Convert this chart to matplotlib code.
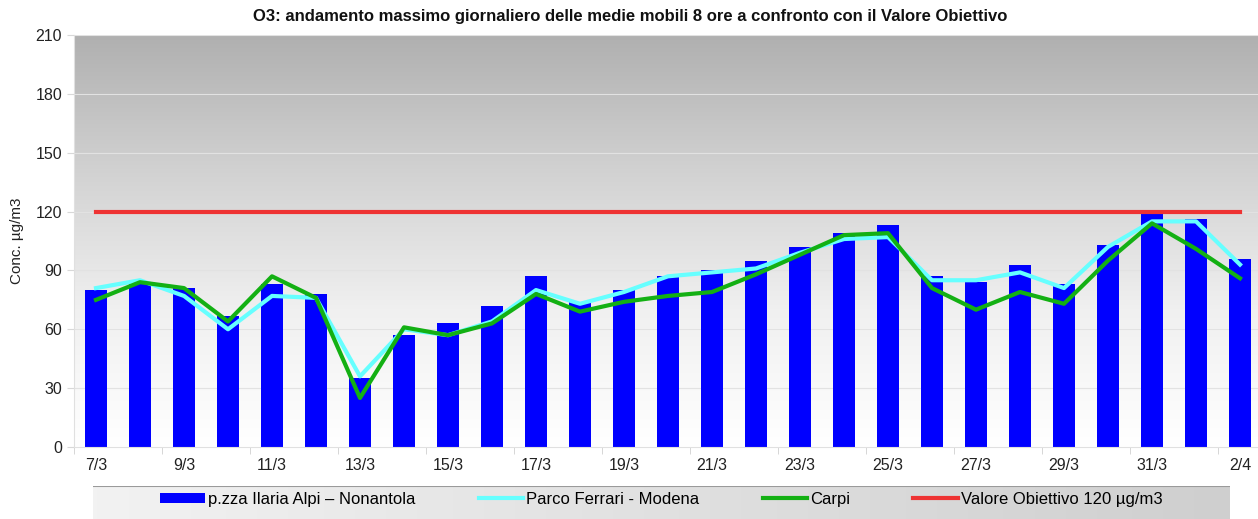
import numpy as np
import matplotlib as mpl
mpl.use('Agg')
import matplotlib.pyplot as plt
from matplotlib.colors import LinearSegmentedColormap
from matplotlib.patches import Patch
from matplotlib.lines import Line2D

dates = ['7/3', '8/3', '9/3', '10/3', '11/3', '12/3', '13/3', '14/3', '15/3',
         '16/3', '17/3', '18/3', '19/3', '20/3', '21/3', '22/3', '23/3', '24/3',
         '25/3', '26/3', '27/3', '28/3', '29/3', '30/3', '31/3', '1/4', '2/4']
nonantola = [80, 83, 81, 67, 83, 78, 35, 57, 63, 72, 87, 74, 80, 87, 90, 95,
             102, 109, 113, 87, 84, 93, 83, 103, 119, 116, 96]
modena = [81, 85, 77, 60, 77, 76, 36, 60, 57, 64, 80, 73, 79, 87, 89, 91,
          99, 106, 107, 85, 85, 89, 81, 102, 115, 115, 93]
carpi = [75, 84, 81, 64, 87, 76, 25, 61, 57, 63, 78, 69, 74, 77, 79, 88,
         98, 108, 109, 81, 70, 79, 73, 95, 114, 101, 86]
target = 120

labels = ['p.zza Ilaria Alpi \u2013 Nonantola', 'Parco Ferrari - Modena', 'Carpi',
          'Valore Obiettivo 120 \u00b5g/m3']
title = 'O3: andamento massimo giornaliero delle medie mobili 8 ore a confronto con il Valore Obiettivo'

plt.rcParams['font.family'] = ['Liberation Sans', 'DejaVu Sans']

W, H = 1258, 519
fig = plt.figure(figsize=(W / 100, H / 100), dpi=100)

# plot area in pixel terms: left 74, right 1262 (clipped), top 35, bottom 447
ax = fig.add_axes([74 / W, (H - 447) / H, (1262 - 74) / W, (447 - 35) / H])

x = np.arange(len(dates))

# gray gradient background
bg = LinearSegmentedColormap.from_list('bg', ['#ffffff', '#f0f0f0', '#d2d2d2', '#b0b0b0'])
grad = np.linspace(0, 1, 256).reshape(-1, 1)
ax.imshow(grad, extent=[0, 1, 0, 1], transform=ax.transAxes, aspect='auto',
          cmap=bg, origin='lower', zorder=0)

for yv in range(30, 211, 30):
    ax.axhline(yv, color='#e2e2e2', lw=0.8, zorder=1)

ax.bar(x, nonantola, width=0.5, color='#0000ff', zorder=2)
ax.plot(x, modena, color='#66ffff', lw=3, zorder=3)
ax.plot(x, carpi, color='#13b013', lw=3, zorder=4)
ax.plot(x, [target] * len(x), color='#ee3333', lw=3, zorder=5)

ax.set_xlim(-0.5, len(dates) - 0.5)
ax.set_ylim(0, 210)
ax.set_yticks(range(0, 211, 30))
ax.set_xticks(x[::2])
ax.set_xticklabels(dates[::2])
ax.set_xticks(np.arange(-0.5, len(dates), 2), minor=True)
ax.tick_params(axis='x', which='major', length=0, pad=8, labelsize=11.5, colors='#222222')
ax.tick_params(axis='x', which='minor', length=5, color='#d0d0d0')
ax.tick_params(axis='y', length=5, labelsize=11.5, colors='#d8d8d8', labelcolor='#222222')
for s in ['top', 'right']:
    ax.spines[s].set_visible(False)
for s in ['left', 'bottom']:
    ax.spines[s].set_color('#e0e0e0')
ax.set_ylabel('Conc. \u00b5g/m3', fontsize=11, color='#222222', labelpad=8)

fig.text(630 / W, 1 - 17 / H, title, ha='center', va='center',
         fontsize=12, fontweight='bold', color='#111111')

# legend box with gradient
lax = fig.add_axes([93 / W, 0, (1230 - 93) / W, (519 - 486) / H])
lg = LinearSegmentedColormap.from_list('lg', ['#f2f2f2', '#cfcfcf'])
lax.imshow(np.linspace(0, 1, 256).reshape(1, -1), extent=[0, 1, 0, 1], aspect='auto',
           cmap=lg, zorder=0)
lax.set_xlim(0, 1)
lax.set_ylim(0, 1)
lax.set_xticks([])
lax.set_yticks([])
for s in lax.spines.values():
    s.set_visible(False)
lax.axhline(1, color='#9a9a9a', lw=1.5)

handles = [Patch(facecolor='#0000ff'),
           Line2D([], [], color='#66ffff', lw=3),
           Line2D([], [], color='#13b013', lw=3),
           Line2D([], [], color='#ee3333', lw=3)]
lax.legend(handles, labels, loc='center', ncol=4, frameon=False, fontsize=12,
           handlelength=2.65, handleheight=0.6, columnspacing=3.8, handletextpad=0.2,
           bbox_to_anchor=(0.5, 0.6))

fig.savefig('out.png', dpi=100)
